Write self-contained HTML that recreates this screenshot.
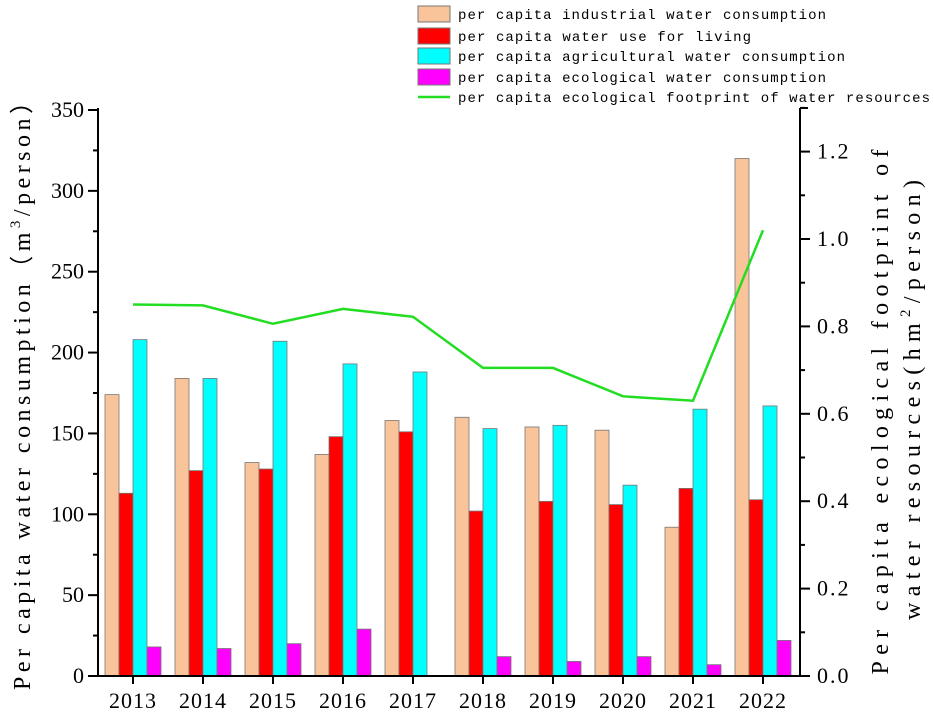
<!DOCTYPE html>
<html><head><meta charset="utf-8"><style>
body{margin:0;background:#fff;}
svg{display:block;font-family:"Liberation Serif","Noto Serif CJK SC",serif;}
</style></head><body>
<svg id="c" width="934" height="718" viewBox="0 0 934 718"></svg>
<script>
const years=["2013","2014","2015","2016","2017","2018","2019","2020","2021","2022"];
const industrial=[174,184,132,137,158,160,154,152,92,320];
const living=[113,127,128,148,151,102,108,106,116,109];
const agricultural=[208,184,207,193,188,153,155,118,165,167];
const ecological=[18,17,20,29,0,12,9,12,7,22];
const footprint=[0.85,0.848,0.806,0.84,0.822,0.705,0.705,0.64,0.63,1.02];
const leftTicks=[0,50,100,150,200,250,300,350];
const rightTicks=[0.0,0.2,0.4,0.6,0.8,1.0,1.2];

const svg=document.getElementById('c');
const NS='http://www.w3.org/2000/svg';
function mk(t,a,p){const e=document.createElementNS(NS,t);for(const k in a)e.setAttribute(k,a[k]);(p||svg).appendChild(e);return e;}
const X0=98,X1=800,Y0=676,YT=110;
const yL=v=>Y0-v*(Y0-YT)/350;
const yR=v=>Y0-v*437;
const xC=i=>133+70*i;

const series=[[industrial,'#f9c499','industrial'],[living,'#ff0000','living'],[agricultural,'#00ffff','agricultural'],[ecological,'#ff00ff','ecological']];
series.forEach((s,si)=>{
  s[0].forEach((v,i)=>{
    if(v<=0)return;
    const r=mk('rect',{x:xC(i)-28+si*14,y:yL(v),width:14,height:Y0-yL(v),fill:s[1],stroke:'#777','stroke-width':0.8});
    
    
  });
});
const pts=footprint.map((v,i)=>xC(i)+','+yR(v)).join(' ');
const ln=mk('polyline',{points:pts,fill:'none',stroke:'#22dd22','stroke-width':2.5});



const ax=mk('g',{stroke:'#000','stroke-width':2});


mk('line',{x1:X0,y1:YT-2,x2:X0,y2:Y0},ax);
mk('line',{x1:X1,y1:YT-2,x2:X1,y2:Y0},ax);
mk('line',{x1:X0-10,y1:Y0,x2:X1+1,y2:Y0},ax);
mk('line',{x1:X1,y1:YT-2,x2:X1+8,y2:YT-2},ax);
leftTicks.forEach(v=>{
  mk('line',{x1:X0-10,y1:yL(v),x2:X0,y2:yL(v)},ax);
  if(v<350)mk('line',{x1:X0-5,y1:yL(v+25),x2:X0,y2:yL(v+25)},ax);
  const t=mk('text',{x:X0-14,y:yL(v)+7,'text-anchor':'end','font-size':22});
  t.textContent=v;
  
  
});
rightTicks.forEach(v=>{
  mk('line',{x1:X1,y1:yR(v),x2:X1+10,y2:yR(v)},ax);
  mk('line',{x1:X1,y1:yR(v+0.1),x2:X1+5,y2:yR(v+0.1)},ax);
  const t=mk('text',{x:X1+17,y:yR(v)+7,'font-size':22,'letter-spacing':2});
  t.textContent=v.toFixed(1);
  
  
});
years.forEach((y,i)=>{
  mk('line',{x1:xC(i),y1:Y0,x2:xC(i),y2:Y0+8},ax);
  const t=mk('text',{x:xC(i),y:Y0+32,'text-anchor':'middle','font-size':22,'letter-spacing':1});
  t.textContent=y;
  
  
});
</script>
<svg style="position:absolute;left:0;top:0" width="934" height="718">
<text x="0" y="0" transform="translate(30,390) rotate(-90)" text-anchor="middle" font-size="24" font-family="Liberation Serif,serif" textLength="600" lengthAdjust="spacing">Per capita water consumption（m<tspan font-size="15" dy="-10">3</tspan><tspan dy="10">/person）</tspan></text>
<text transform="translate(888,412) rotate(-90)" text-anchor="middle" font-size="24" font-family="Liberation Serif,serif" textLength="525" lengthAdjust="spacing">Per capita ecological footprint of</text>
<text transform="translate(920,400) rotate(-90)" text-anchor="middle" font-size="24" font-family="Liberation Serif,serif" textLength="440" lengthAdjust="spacing">water resources(hm<tspan font-size="15" dy="-10">2</tspan><tspan dy="10">/person)</tspan></text>
<g font-family="Liberation Mono,monospace" font-size="14">
<rect x="418" y="6" width="32" height="16" fill="#f9c499" stroke="#777"/>
<text x="458" y="19" textLength="368" lengthAdjust="spacing">per capita industrial water consumption</text>
<rect x="418" y="28" width="32" height="16" fill="#ff0000" stroke="#777"/>
<text x="458" y="41" textLength="293" lengthAdjust="spacing">per capita water use for living</text>
<rect x="418" y="48" width="32" height="16" fill="#00ffff" stroke="#777"/>
<text x="458" y="61" textLength="387" lengthAdjust="spacing">per capita agricultural water consumption</text>
<rect x="418" y="69" width="32" height="16" fill="#ff00ff" stroke="#777"/>
<text x="458" y="82" textLength="368" lengthAdjust="spacing">per capita ecological water consumption</text>
<line x1="418" y1="97" x2="450" y2="97" stroke="#22dd22" stroke-width="2.5"/>
<text x="458" y="102" textLength="472" lengthAdjust="spacing">per capita ecological footprint of water resources</text>
</g>
</svg>
</body></html>
